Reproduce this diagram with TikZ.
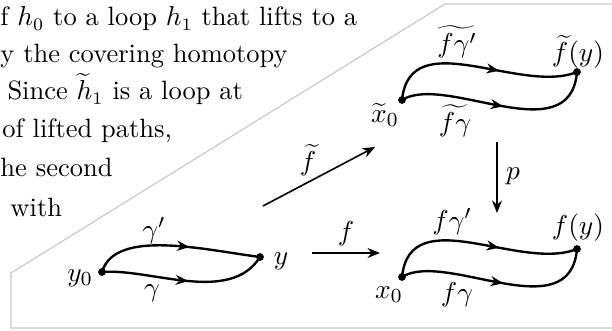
\documentclass[tikz,border=0pt]{standalone}
\usetikzlibrary{arrows.meta,decorations.markings}

\tikzset{
  dot/.style={circle,fill,inner sep=0pt,minimum size=3.1pt},
  lbl/.style={inner sep=0pt,font=\fontsize{11.4}{13}\selectfont},
  txt/.style={anchor=base west,inner sep=0pt,font=\fontsize{10.6}{12}\selectfont},
  loopcurve/.style={line width=0.95pt,postaction={decorate},
    decoration={markings,mark=at position #1 with {\arrow{Stealth[length=5pt,width=4pt]}}}},
  loopcurve/.default=0.5,
  maparrow/.style={-{Stealth[length=5pt,width=4pt]},line width=0.65pt},
  frameline/.style={black!22,line width=0.45pt}
}

\begin{document}
\begin{tikzpicture}[x=0.4pt,y=-0.4pt]
\useasboundingbox (0,0) rectangle (612,331);
\clip (0,0) rectangle (612,331);

% text running beside the figure
\node[txt] (l1) at (0,26) {f $h_0$ to a loop $h_1$ that lifts to a};
\node[txt] (l2) at (0,63) {y the covering homotopy};
\node[txt] (l3) at (7,100) {Since $\widetilde{h}_1$ is a loop at};
\node[txt] (l4) at (2,138) {of lifted paths,};
\node[txt] (l5) at (0,177) {he second};
\node[txt] (l6) at (10,217) {with};

% frame
\draw[frameline] (640,4) -- (445,4) -- (11,273) -- (11,328) -- (640,328);

% points
\node[dot] (y0) at (102,272) {};
\node[dot] (y) at (260,257) {};
\node[dot] (x0) at (402,277) {};
\node[dot] (fy) at (577,249) {};
\node[dot] (tx0) at (402,100) {};
\node[dot] (tfy) at (577,72) {};

% paths in Y
\draw[loopcurve=0.58] (y0.center) .. controls (115,228) and (205,250) .. (y.center);
\draw[loopcurve=0.52] (y0.center) .. controls (150,268) and (230,305) .. (y.center);
\node[lbl] (ly0) at (80,278) {$y_0$};
\node[lbl] (ly) at (281,261) {$y$};
\node[lbl] (lg1) at (154,231) {$\gamma'$};
\node[lbl] (lg) at (152,293) {$\gamma$};

% paths in X
\draw[loopcurve=0.6] (x0.center) .. controls (410,200) and (520,272) .. (fy.center);
\draw[loopcurve=0.52] (x0.center) .. controls (445,250) and (570,330) .. (fy.center);
\node[lbl] (lx0) at (389,295) {$x_0$};
\node[lbl] (lfy) at (578,228) {$f(y)$};
\node[lbl] (lfg1) at (452,222) {$f\gamma'$};
\node[lbl] (lfg) at (457,295) {$f\gamma$};

% lifted paths
\draw[loopcurve=0.6] (tx0.center) .. controls (410,23) and (520,95) .. (tfy.center);
\draw[loopcurve=0.52] (tx0.center) .. controls (445,73) and (570,153) .. (tfy.center);
\node[lbl] (ltx0) at (385,115) {$\widetilde{x}_0$};
\node[lbl] (ltfy) at (578,52) {$\widetilde{f}(y)$};
\node[lbl] (ltfg1) at (457,42) {$\widetilde{f\gamma'}$};
\node[lbl] (ltfg) at (455,121) {$\widetilde{f\gamma}$};

% maps
\coordinate (fs) at (312,253);
\coordinate (fe) at (380,253);
\coordinate (ts) at (263,206);
\coordinate (te) at (375,147);
\coordinate (ps) at (497,142);
\coordinate (pe) at (497,213);
\draw[maparrow] (fs) -- (fe);
\draw[maparrow] (ts) -- (te);
\draw[maparrow] (ps) -- (pe);
\node[lbl] (lf) at (346,234) {$f$};
\node[lbl] (ltf) at (308,160) {$\widetilde{f}$};
\node[lbl] (lp) at (513,176) {$p$};
\end{tikzpicture}
\end{document}
